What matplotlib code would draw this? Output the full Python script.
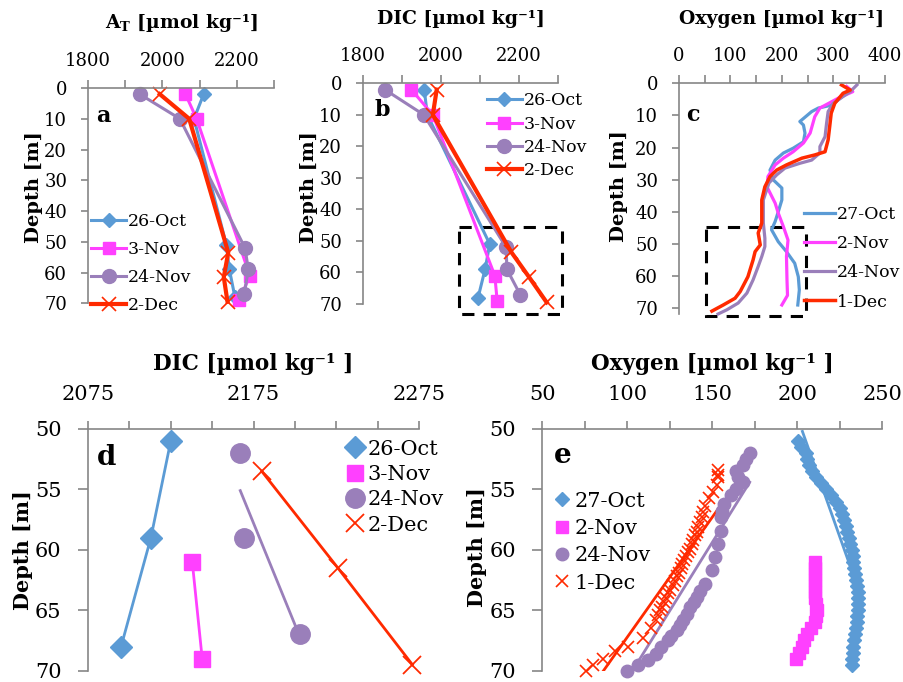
import numpy as np
import matplotlib
matplotlib.use("Agg")
import matplotlib.pyplot as plt
from matplotlib.patches import Rectangle

plt.rcParams['font.family'] = ['DejaVu Serif']
plt.rcParams['mathtext.fontset'] = 'dejavuserif'

# colours
c_oct = '#5B9BD5'
c_nov = '#FF40FF'
c_nov24 = '#9A7FBA'
c_dec = '#FF2A00'
grey = '#868686'

# ---- panel a / b : bottle data ----
dep_oct26 = [2, 10, 51, 59, 68]
dep_nov3 = [2, 10, 61, 69]
dep_nov24 = [2, 10, 52, 59, 67]
dep_dec2 = [2, 10, 53.5, 61.5, 69.5]

at_oct26 = [2111, 2085, 2172, 2180, 2195]
at_nov3 = [2062, 2092, 2235, 2207]
at_nov24 = [1939, 2047, 2222, 2231, 2220]
at_dec2 = [1993, 2072, 2177, 2165, 2175]

dic_oct26 = [1957, 1965, 2125, 2113, 2095]
dic_nov3 = [1924, 1979, 2138, 2144]
dic_nov24 = [1856, 1956, 2167, 2169, 2203]
dic_dec2 = [1989, 1979, 2180, 2226, 2271]

# trend line of 24-Nov in panel d (depth, DIC)
trend_d_nov24_dep = [55.1, 67.05]
trend_d_nov24_dic = [2167, 2202.6]

# ---- panel c : oxygen profiles ----
c_oct27_dep = [2.1, 4.7, 6.8, 7.7, 8.8, 11.9, 13, 15.5, 18.2, 20.2, 21.7, 23.9, 27, 30,
               32.6, 36.3, 40, 43, 45.6, 49.3, 52.4, 56, 60.2, 64.3, 69]
c_oct27_ox = [333, 313, 297, 271, 258, 235, 242, 245, 242, 222, 203, 187, 177, 183,
              200, 200, 193, 187, 180, 193, 209, 225, 232, 234, 231]
c_nov2_dep = [1, 2.6, 4.6, 7.7, 10.4, 15.5, 18.6, 21.3, 23.3, 25.4, 29, 32.2, 37.3,
              40.4, 44.6, 48.8, 53.9, 61.2, 66, 69]
c_nov2_ox = [326, 338, 310, 274, 264, 255, 242, 222, 203, 187, 173, 171, 187,
             193, 203, 212, 209, 210, 211, 200]
c_nov24_dep = [0.5, 2.6, 6.2, 8.8, 12.4, 16.6, 19.7, 21.7, 23.9, 24.9, 26.4, 28.5, 31,
               36.3, 43.5, 48.2, 50.8, 53.9, 57, 61.2, 65.3, 68.4, 70.5, 71.8]
c_nov24_ox = [346, 333, 300, 290, 287, 284, 274, 274, 258, 235, 206, 190, 175,
              164, 164, 167, 167, 161, 154, 144, 132, 115, 93, 76]
c_dec1_dep = [0.5, 2.1, 3.1, 6.2, 9.3, 13.5, 17.6, 21.3, 22.3, 23.3, 25.4, 27, 29, 32.2,
              36.3, 43.5, 46.6, 50.3, 52.4, 55, 60.2, 64.8, 66.9, 69, 70.9]
c_dec1_ox = [316, 333, 319, 303, 296, 293, 290, 284, 264, 239, 209, 190, 177, 167,
             161, 161, 154, 158, 148, 144, 134, 119, 109, 86, 64]

# ---- panel e : deep oxygen points ----
e_oct27_dep = [51, 51.5, 52, 52.5, 53, 53.5, 54, 54.5, 55, 55.5, 56, 56.5, 57, 57.5, 58,
               58.5, 59, 59.5, 60, 60.5, 61, 61.5, 62, 62.5, 63, 63.5, 64, 64.5, 65,
               65.5, 66, 66.5, 67, 67.5, 68, 68.5, 69, 69.5]
e_oct27_ox = [200.6, 202, 205, 206, 207, 208.5, 211, 214, 217, 220, 223, 225, 226.5,
              227.5, 228.5, 229.5, 230.5, 231, 232, 232.5, 233, 233.5, 234, 234.5, 235,
              235.5, 235.5, 235.5, 235.5, 235, 235, 234.5, 234, 233.5, 233, 232.5, 232, 232]
e_nov2_dep = [61, 61.5, 62, 62.5, 63, 63.5, 64, 64.5, 65, 65.5, 66, 66.5, 67, 67.5, 68,
              68.5, 69]
e_nov2_ox = [210.4, 210.5, 210.5, 210.3, 210.2, 210.2, 210.5, 211, 211.5, 211, 210.5,
             208, 205.5, 204, 202.5, 201, 199]
e_nov24_dep = [52, 52.5, 53, 53.5, 54, 54.4, 55, 55.5, 56.2, 56.8, 57.3, 58.4, 59.5,
               60.6, 61.7, 62.8, 63.4, 63.9, 64.3, 64.7, 65.3, 65.8, 66.2, 66.6, 67.1,
               67.5, 68, 68.6, 69.1, 69.5, 70]
e_nov24_ox = [172, 170, 168, 164, 165, 168, 164, 161, 157, 156, 155, 155, 153.5,
              151.6, 149.6, 145.7, 143, 140.8, 139, 137, 135, 133, 131, 129, 126,
              124, 120, 117, 112, 106.5, 99.6]
e_dec1_dep = [53.4, 53.8, 54, 54.6, 55.2, 55.7, 56.4, 56.9, 57.3, 57.7, 58.1, 58.5, 58.8,
              59.2, 59.5, 59.9, 60.2, 60.5, 60.8, 61.2, 61.5, 61.9, 62.2, 62.6, 62.9,
              63.3, 63.6, 64, 64.3, 64.7, 65, 65.4, 65.8, 66.5, 67.3, 68, 68.4, 69,
              69.5, 70]
e_dec1_ox = [153.5, 153.5, 153.5, 152.5, 150.6, 148, 145.7, 144.7, 143.7, 142.8, 141.8,
             140.8, 139.8, 138.8, 137.8, 136.9, 135.9, 134.6, 133.3, 132.4, 131.4, 130.2,
             129, 127.8, 126.7, 125.3, 124, 122.8, 121.6, 120.3, 119, 118, 117, 114,
             109, 100.6, 92.7, 86, 80, 75.7]

# trend lines in panel e
trend_e_oct27_dep = [50.2, 62.5]
trend_e_oct27_ox = [203, 234]
trend_e_nov24_dep = [54.4, 69.9]
trend_e_nov24_ox = [172, 103.5]
trend_e_dec1_dep = [56.6, 70]
trend_e_dec1_ox = [153.5, 86]

W, H = 904, 682
fig = plt.figure(figsize=(W / 100, H / 100), dpi=100)


def add_ax(l, t, r, b):
    return fig.add_axes([l / W, 1 - b / H, (r - l) / W, (b - t) / H])


def style(ax, xt, xlab, yt, fs, xpad, ypad, ylen, xlabel, lpad, ylab_xy, ylab_fs):
    ax.xaxis.tick_top()
    ax.xaxis.set_label_position('top')
    for s in ['right', 'bottom']:
        ax.spines[s].set_visible(False)
    for s in ['top', 'left']:
        ax.spines[s].set_color(grey)
        ax.spines[s].set_linewidth(1.2)
    ax.set_xticks(xt)
    ax.set_xticklabels(xlab)
    ax.set_yticks(yt)
    ax.tick_params(axis='x', direction='out', length=6, color=grey, width=1.2,
                   labelsize=fs, pad=xpad)
    ax.tick_params(axis='y', direction='out', length=ylen, color=grey, width=1.2,
                   labelsize=fs, pad=ypad)
    ax.set_xlabel(xlabel, fontsize=fs + 0.5, fontweight='bold', labelpad=lpad)
    ax.set_ylabel('Depth [m]', fontsize=ylab_fs, fontweight='bold')
    ax.yaxis.set_label_coords(*ylab_xy)


fs_top = 13
fs_bot = 15

# ---------- panel a ----------
ax = add_ax(88, 88, 274, 303.3)
ax.plot(at_oct26, dep_oct26, '-D', color=c_oct, lw=2.2, ms=7, label='26-Oct', clip_on=False)
ax.plot(at_nov3, dep_nov3, '-s', color=c_nov, lw=2.2, ms=9, label='3-Nov', clip_on=False)
ax.plot(at_nov24, dep_nov24, '-o', color=c_nov24, lw=2.2, ms=10, label='24-Nov', clip_on=False)
ax.plot(at_dec2, dep_dec2, '-x', color=c_dec, lw=3, ms=10, mew=1.2, label='2-Dec', clip_on=False)
ax.set_xlim(1800, 2300)
ax.set_ylim(70, 0)
style(ax, [1800, 1900, 2000, 2100, 2200, 2300], ['1800', '', '2000', '', '2200', ''],
      range(0, 71, 10), fs_top, 7, 10, 5, r'$\mathbf{A}_{\mathbf{T}}$ [µmol kg⁻¹]', 17,
      (-0.242, 0.54), 14)
ax.text(0.08, 0.87, 'a', transform=ax.transAxes, fontsize=16, fontweight='bold',
        ha='center', va='center')
ax.legend(loc='lower left', bbox_to_anchor=(-0.02, -0.08), frameon=False, fontsize=fs_top - 0.5,
          handlelength=2.0, handletextpad=0.1, labelspacing=0.62, borderaxespad=0)

# ---------- panel b ----------
ax = add_ax(363, 83.3, 558, 304)
ax.plot(dic_oct26, dep_oct26, '-D', color=c_oct, lw=2.2, ms=7, label='26-Oct', clip_on=False)
ax.plot(dic_nov3, dep_nov3, '-s', color=c_nov, lw=2.2, ms=9, label='3-Nov', clip_on=False)
ax.plot(dic_nov24, dep_nov24, '-o', color=c_nov24, lw=2.2, ms=10, label='24-Nov', clip_on=False)
ax.plot(dic_dec2, dep_dec2, '-x', color=c_dec, lw=3, ms=10, mew=1.2, label='2-Dec', clip_on=False)
ax.set_xlim(1800, 2300)
ax.set_ylim(70, 0)
style(ax, [1800, 1900, 2000, 2100, 2200, 2300], ['1800', '', '2000', '', '2200', ''],
      range(0, 71, 10), fs_top, 7, 10, 5, 'DIC [µmol kg⁻¹]', 17, (-0.231, 0.53), 14)
ax.add_patch(Rectangle((2045, 45.5), 266, 27.6, fill=False, ls=(0, (4, 3)), lw=2.2,
                       ec='black', clip_on=False))
ax.text(0.097, 0.88, 'b', transform=ax.transAxes, fontsize=16, fontweight='bold',
        ha='center', va='center')
ax.legend(loc='upper left', bbox_to_anchor=(0.6, 0.99), frameon=False, fontsize=fs_top - 0.5,
          handlelength=2.0, handletextpad=0.1, labelspacing=0.36, borderaxespad=0)

# ---------- panel c ----------
ax = add_ax(679, 83.3, 884.7, 314)
ax.plot(c_oct27_ox, c_oct27_dep, '-', color=c_oct, lw=2.3, label='27-Oct', clip_on=False)
ax.plot(c_nov2_ox, c_nov2_dep, '-', color=c_nov, lw=2.3, label='2-Nov', clip_on=False)
ax.plot(c_nov24_ox, c_nov24_dep, '-', color=c_nov24, lw=2.3, label='24-Nov', clip_on=False)
ax.plot(c_dec1_ox, c_dec1_dep, '-', color=c_dec, lw=2.5, label='1-Dec', clip_on=False)
ax.set_xlim(0, 400)
ax.set_ylim(71.8, 0)
style(ax, range(0, 401, 50), ['0', '', '100', '', '200', '', '300', '', '400'],
      range(0, 71, 10), fs_top, 7, 10, 5, 'Oxygen [µmol kg⁻¹]', 17, (-0.248, 0.556), 14)
ax.add_patch(Rectangle((52, 44.8), 194, 27.5, fill=False, ls=(0, (4, 3)), lw=2.2,
                       ec='black', clip_on=False))
ax.text(0.068, 0.862, 'c', transform=ax.transAxes, fontsize=16, fontweight='bold',
        ha='center', va='center')
ax.legend(loc='lower left', bbox_to_anchor=(0.575, -0.015), frameon=False, fontsize=fs_top - 0.5,
          handlelength=1.8, handletextpad=0.1, labelspacing=0.7, borderaxespad=0)

# ---------- panel d ----------
ax = add_ax(88, 429, 419, 670.7)
ax.plot(dic_oct26[2:], dep_oct26[2:], '-', color=c_oct, lw=2)
ax.plot(dic_nov3[2:], dep_nov3[2:], '-', color=c_nov, lw=2)
ax.plot(trend_d_nov24_dic, trend_d_nov24_dep, '-', color=c_nov24, lw=2)
ax.plot(dic_dec2[2:], dep_dec2[2:], '-', color=c_dec, lw=2)
ax.plot(dic_oct26[2:], dep_oct26[2:], 'D', color=c_oct, ms=11, label='26-Oct', clip_on=False)
ax.plot(dic_nov3[2:], dep_nov3[2:], 's', color=c_nov, ms=12, label='3-Nov', clip_on=False)
ax.plot(dic_nov24[2:], dep_nov24[2:], 'o', color=c_nov24, ms=14, label='24-Nov', clip_on=False)
ax.plot(dic_dec2[2:], dep_dec2[2:], 'x', color=c_dec, ms=13, mew=1.3, label='2-Dec', clip_on=False)
ax.set_xlim(2075, 2275)
ax.set_ylim(70, 50)
style(ax, range(2075, 2276, 25), ['2075', '', '', '', '2175', '', '', '', '2275'],
      range(50, 71, 5), fs_bot, 12, 12, 7, 'DIC [µmol kg⁻¹ ]', 10.5, (-0.166, 0.5), 15)
ax.text(0.057, 0.884, 'd', transform=ax.transAxes, fontsize=20, fontweight='bold',
        ha='center', va='center')
ax.legend(loc='upper left', bbox_to_anchor=(0.755, 0.99), frameon=False, fontsize=fs_bot,
          handlelength=0.8, handletextpad=0.2, labelspacing=0.3, borderaxespad=0)

# ---------- panel e ----------
ax = add_ax(542.3, 429, 882.3, 670.7)
ax.plot(trend_e_oct27_ox, trend_e_oct27_dep, '-', color=c_oct, lw=2)
ax.plot(trend_e_nov24_ox, trend_e_nov24_dep, '-', color=c_nov24, lw=2)
ax.plot(trend_e_dec1_ox, trend_e_dec1_dep, '-', color=c_dec, lw=2)
ax.plot(e_oct27_ox, e_oct27_dep, 'D', color=c_oct, ms=7, label='27-Oct', clip_on=False)
ax.plot(e_nov2_ox, e_nov2_dep, 's', color=c_nov, ms=8, label='2-Nov', clip_on=False)
ax.plot(e_nov24_ox, e_nov24_dep, 'o', color=c_nov24, ms=9, label='24-Nov', clip_on=False)
ax.plot(e_dec1_ox, e_dec1_dep, 'x', color=c_dec, ms=9, mew=1.2, label='1-Dec', clip_on=False)
ax.set_xlim(50, 250)
ax.set_ylim(70, 50)
style(ax, range(50, 251, 25), ['50', '', '100', '', '150', '', '200', '', '250'],
      range(50, 71, 5), fs_bot, 12, 12, 7, 'Oxygen [µmol kg⁻¹ ]', 10.5, (-0.163, 0.51), 15)
ax.text(0.061, 0.892, 'e', transform=ax.transAxes, fontsize=20, fontweight='bold',
        ha='center', va='center')
ax.legend(loc='upper left', bbox_to_anchor=(0.01, 0.775), frameon=False, fontsize=fs_bot,
          handlelength=0.8, handletextpad=0.2, labelspacing=0.4, borderaxespad=0)

fig.savefig('out.png', dpi=100)
